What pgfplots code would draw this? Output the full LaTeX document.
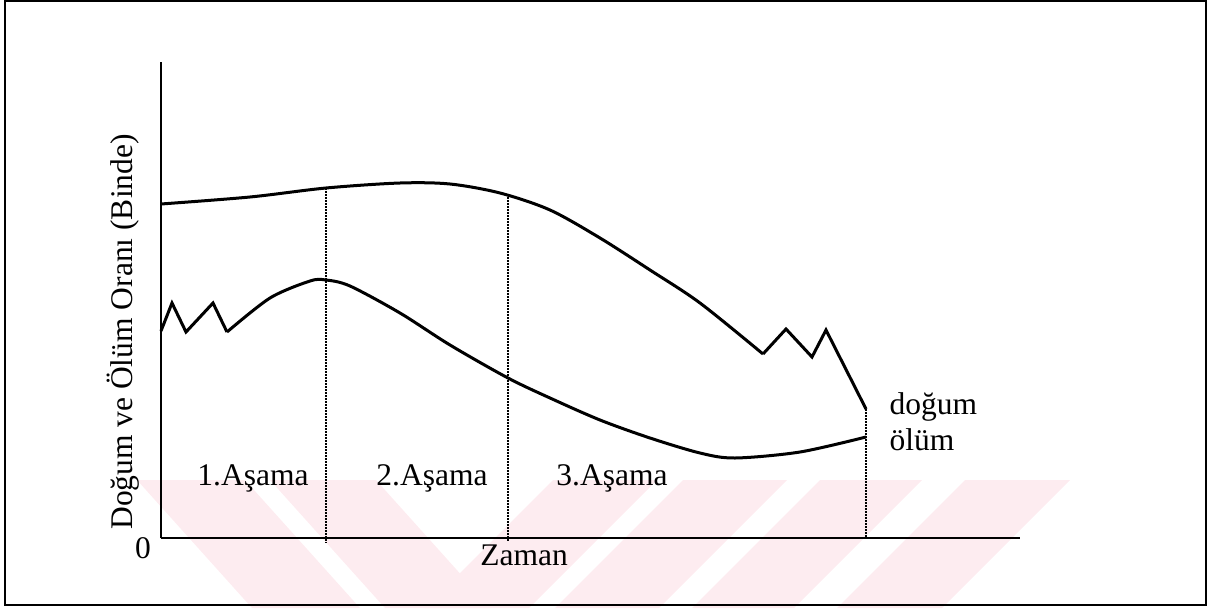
\documentclass[border=0pt]{standalone}
\usepackage{fontspec}
\setmainfont{Liberation Serif}
\usepackage{pgfplots}
\pgfplotsset{compat=1.18}
\definecolor{wm}{RGB}{253,236,240}
\tikzset{lbl/.style={font=\fontsize{12.6}{15}\selectfont, inner sep=0pt}}
\begin{document}
\begin{tikzpicture}
\begin{axis}[
  x=0.4pt, y=0.4pt,
  xmin=0, xmax=859, ymin=0, ymax=476,
  axis lines=left,
  axis line style={-, line width=0.8pt},
  ticks=none,
  enlargelimits=false,
  clip=false,
  axis on top,
]
% watermark
\addplot[draw=none, fill=wm] coordinates {(-24,58) (84,58) (199,-70) (91,-70)} --cycle;
\addplot[draw=none, fill=wm] coordinates {(109,58) (215,58) (330,-70) (224,-70)} --cycle;
\addplot[draw=none, fill=wm] coordinates {(392,58) (496,58) (368,-70) (264,-70)} --cycle;
\addplot[draw=none, fill=wm] coordinates {(522,58) (626,58) (498,-70) (394,-70)} --cycle;
\addplot[draw=none, fill=wm] coordinates {(659,58) (761,58) (633,-70) (531,-70)} --cycle;
\addplot[draw=none, fill=wm] coordinates {(804,58) (909,58) (781,-70) (676,-70)} --cycle;
% dotted stage separators
\addplot[line width=1pt, dash pattern=on 0.6pt off 0.6pt] coordinates {(165,350) (165,-5)};
\addplot[line width=1pt, dash pattern=on 0.6pt off 0.6pt] coordinates {(347,341) (347,-4)};
\addplot[line width=1pt, dash pattern=on 0.6pt off 0.6pt] coordinates {(705,129) (705,0)};
% birth rate (dogum)
\addplot[line width=1.2pt, smooth] coordinates {
(0,334) (89,341) (165,350) (239,355) (289,354) (339,345) (389,328)
(439,300) (489,268) (539,235) (602,184)};
\addplot[line width=1.2pt, sharp plot] coordinates {
(602,184) (625,209) (651,181) (665,208) (705,129)};
% death rate (olum)
\addplot[line width=1.2pt, sharp plot] coordinates {
(0,207) (11,235) (25,206) (52,235) (66,206)};
\addplot[line width=1.2pt, smooth] coordinates {
(66,206) (109,240) (149,257) (165,258) (189,252) (239,225) (289,193)
(347,160) (389,140) (439,118) (489,100) (539,85) (574,80) (639,86) (705,101)};
% labels
\node[lbl, anchor=base] at (axis cs:92,53) {1.Aşama};
\node[lbl, anchor=base] at (axis cs:271,53) {2.Aşama};
\node[lbl, anchor=base] at (axis cs:451,53) {3.Aşama};
\node[lbl, anchor=base west] at (axis cs:728,124) {doğum};
\node[lbl, anchor=base west] at (axis cs:728,88) {ölüm};
\node[lbl, anchor=base] at (axis cs:-18,-20) {0};
\node[lbl, anchor=base] at (axis cs:363,-27) {Zaman};
\node[lbl, anchor=base, rotate=90] at (axis cs:-29,206) {Doğum ve Ölüm Oranı (Binde)};
% outer frame
\draw[line width=0.8pt] (axis cs:-156,537) rectangle (axis cs:1045,-67);
\coordinate (bbl) at (axis cs:-161,-70);
\coordinate (btr) at (axis cs:1049,538);
\end{axis}
\path (bbl) rectangle (btr);
\end{tikzpicture}
\end{document}
